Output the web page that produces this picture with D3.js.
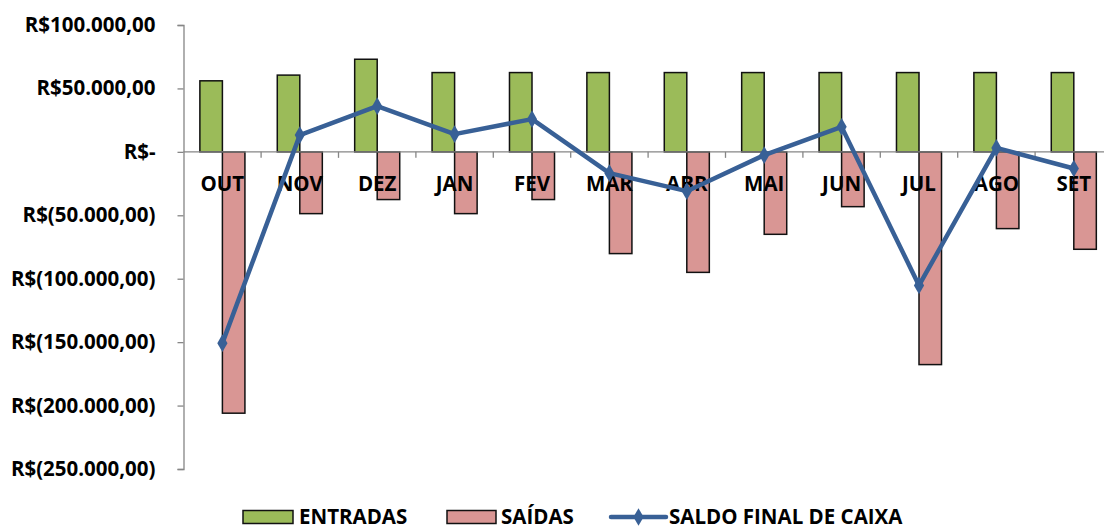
<!DOCTYPE html>
<html>
<head>
<meta charset="utf-8">
<script src="https://cdn.jsdelivr.net/npm/d3@7"></script>
<style>
  html, body { margin: 0; padding: 0; background: #fff; }
  svg { display: block; }
  text { font-family: "Open Sans", sans-serif; font-weight: 700; fill: #000; }
</style>
</head>
<body>
<svg id="chart" width="1104" height="530"></svg>
<script>
const categories = ["OUT","NOV","DEZ","JAN","FEV","MAR","ABR","MAI","JUN","JUL","AGO","SET"];
const entradas = [56000, 60500, 73000, 62500, 62500, 62500, 62500, 62500, 62500, 62500, 62500, 62500];
const saidas = [-206000, -48700, -37600, -48700, -37600, -80200, -95000, -65000, -43200, -167700, -60500, -76800];
const saldo = [-150800, 13200, 36000, 14000, 25800, -16800, -31000, -2600, 19700, -105300, 3100, -13100];
const yTicks = [100000, 50000, 0, -50000, -100000, -150000, -200000, -250000];
const seriesNames = ["ENTRADAS", "SAÍDAS", "SALDO FINAL DE CAIXA"];

const colGreen = "#9BBB59", colPink = "#D99694", colBlue = "#386096", axisCol = "#868686";
const FS = 20.5;

const svg = d3.select("#chart");
const loc = d3.formatLocale({decimal: ",", thousands: ".", grouping: [3], currency: ["R$", ""]});
const fmt = loc.format(",.2f");
const money = v => v === 0 ? "R$-" : (v < 0 ? "R$(" + fmt(-v) + ")" : "R$" + fmt(v));

const x = d3.scaleBand().domain(categories).range([183.7, 1112.5]).paddingInner(0.418).paddingOuter(0.209);
const xs = d3.scaleBand().domain(["e", "s"]).range([0, x.bandwidth()]);
const y = d3.scaleLinear().domain([-250000, 100000]).range([469, 25]);
const axisX = 183.5;

// Y axis
const ya = svg.append("g").attr("transform", `translate(${axisX},0)`)
  .call(d3.axisLeft(y).tickValues(yTicks).tickFormat(money).tickSize(6).tickPadding(22));
ya.select(".domain").attr("stroke", axisCol).attr("stroke-width", 1.3);
ya.selectAll(".tick line").attr("stroke", axisCol).attr("stroke-width", 1.3);
ya.selectAll(".tick text").attr("font-size", FS).attr("font-family", "Open Sans").attr("font-weight", 700).attr("fill", "#000");

// Bars
const g = svg.append("g");
g.selectAll("rect.e").data(categories).join("rect").attr("class", "e")
  .attr("x", d => x(d) + xs("e")).attr("width", xs.bandwidth())
  .attr("y", (d, i) => y(Math.max(0, entradas[i]))).attr("height", (d, i) => Math.abs(y(entradas[i]) - y(0)))
  .attr("fill", colGreen).attr("stroke", "#111").attr("stroke-width", 1.5);
g.selectAll("rect.s").data(categories).join("rect").attr("class", "s")
  .attr("x", d => x(d) + xs("s")).attr("width", xs.bandwidth())
  .attr("y", (d, i) => y(Math.max(0, saidas[i]))).attr("height", (d, i) => Math.abs(y(saidas[i]) - y(0)))
  .attr("fill", colPink).attr("stroke", "#111").attr("stroke-width", 1.5);

// X axis (zero line) with ticks at category boundaries
const y0 = y(0);
const step = x.step();
svg.append("line").attr("x1", axisX).attr("x2", 1104).attr("y1", y0).attr("y2", y0)
  .attr("stroke", axisCol).attr("stroke-width", 1.3);
svg.selectAll("line.xt").data(categories).join("line").attr("class", "xt")
  .attr("x1", d => x(d) + x.bandwidth() / 2 + step / 2).attr("x2", d => x(d) + x.bandwidth() / 2 + step / 2)
  .attr("y1", y0).attr("y2", y0 + 6).attr("stroke", axisCol).attr("stroke-width", 1.3);
svg.selectAll("text.xl").data(categories).join("text").attr("class", "xl")
  .attr("x", d => x(d) + x.bandwidth() / 2).attr("y", 191)
  .attr("text-anchor", "middle").attr("font-size", FS).text(d => d);

// Line
const cx = d => x(d) + x.bandwidth() / 2;
const line = d3.line().x((d, i) => cx(categories[i])).y(d => y(d));
svg.append("path").datum(saldo).attr("d", line).attr("fill", "none")
  .attr("stroke", colBlue).attr("stroke-width", 4.5).attr("stroke-linejoin", "round");
svg.selectAll("path.mk").data(saldo).join("path").attr("class", "mk")
  .attr("transform", (d, i) => `translate(${cx(categories[i])},${y(d)})`)
  .attr("d", d3.symbol(d3.symbolDiamond, 90)).attr("fill", colBlue);

// Legend
const ly = 517;
const lg = svg.append("g");
lg.append("rect").attr("x", 243).attr("y", ly - 6.5).attr("width", 50).attr("height", 13)
  .attr("fill", colGreen).attr("stroke", "#111").attr("stroke-width", 1.5);
lg.append("text").attr("x", 299).attr("y", ly + 6.5).attr("font-size", FS).text(seriesNames[0]);
lg.append("rect").attr("x", 447).attr("y", ly - 6.5).attr("width", 49).attr("height", 13)
  .attr("fill", colPink).attr("stroke", "#111").attr("stroke-width", 1.5);
lg.append("text").attr("x", 501).attr("y", ly + 6.5).attr("font-size", FS).text(seriesNames[1]);
lg.append("line").attr("x1", 611).attr("x2", 666).attr("y1", ly).attr("y2", ly)
  .attr("stroke", colBlue).attr("stroke-width", 4.5).attr("stroke-linecap", "round");
lg.append("path").attr("transform", `translate(638.5,${ly})`).attr("d", d3.symbol(d3.symbolDiamond, 90)).attr("fill", colBlue);
lg.append("text").attr("x", 669).attr("y", ly + 6.5).attr("font-size", FS).text(seriesNames[2]);
</script>
</body>
</html>
